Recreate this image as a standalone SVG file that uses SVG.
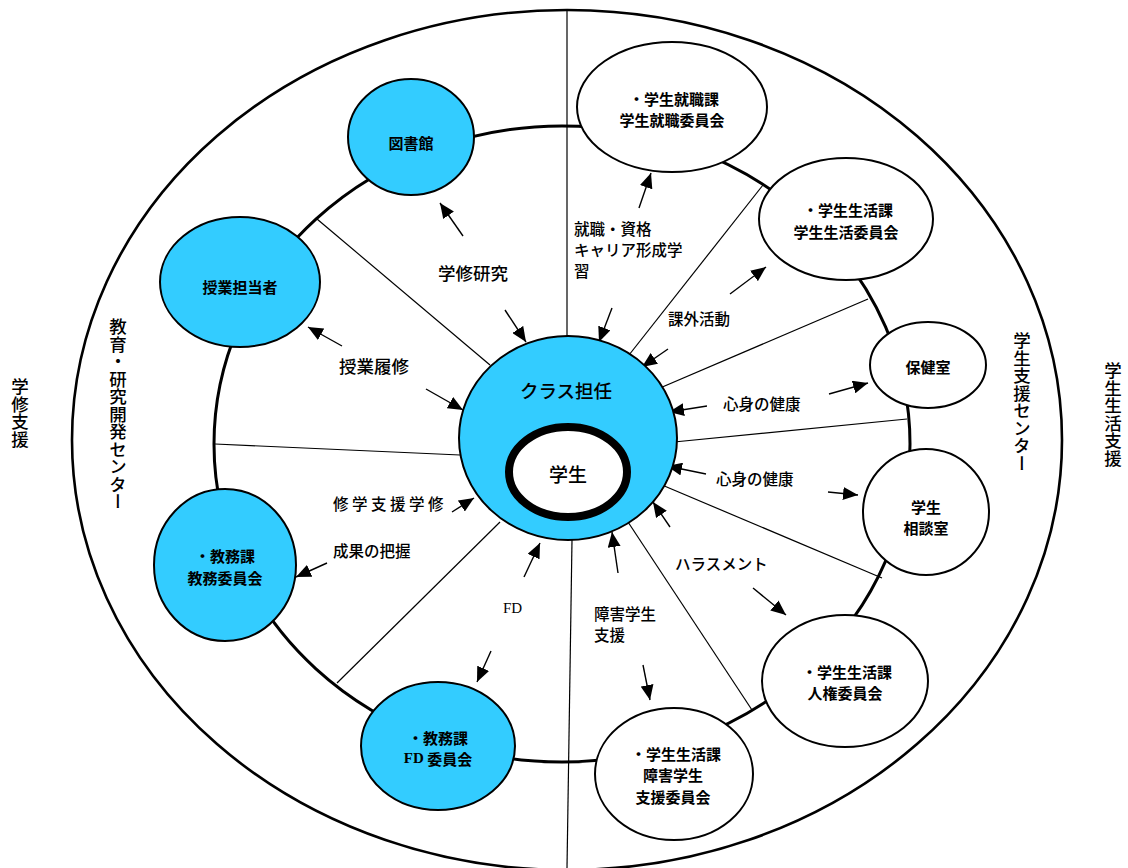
<svg xmlns="http://www.w3.org/2000/svg" width="1128" height="868" viewBox="0 0 1128 868">
<defs>
<style>
.bg{fill:#ffffff}
.outer{fill:none;stroke:#000;stroke-width:2.6}
.ring{fill:none;stroke:#000;stroke-width:3}
.thin{fill:none;stroke:#000;stroke-width:1.2}
.arr{fill:none;stroke:#000;stroke-width:1.4;marker-end:url(#ah)}
.blue{fill:#33CCFF;stroke:#000;stroke-width:2}
.white{fill:#ffffff;stroke:#000;stroke-width:2}
.nt{font-family:"Noto Sans CJK JP","Noto Sans",sans-serif;font-size:15px;font-weight:bold;fill:#000;text-anchor:middle;dominant-baseline:central}
.lb{font-family:"Noto Sans CJK JP","Noto Sans",sans-serif;font-size:15.5px;font-weight:500;fill:#000;dominant-baseline:central}
.lbb{font-family:"Noto Sans CJK JP","Noto Sans",sans-serif;font-size:17.5px;font-weight:500;fill:#000;dominant-baseline:central}
.vt{font-family:"Noto Sans CJK JP","Noto Sans",sans-serif;font-size:17.5px;font-weight:500;fill:#000;writing-mode:vertical-rl;text-anchor:start}
.fd{font-family:"Liberation Serif",serif}
</style>
<marker id="ah" markerUnits="userSpaceOnUse" markerWidth="15" markerHeight="13" refX="15" refY="6.5" orient="auto">
<path d="M0,0 L15,6.5 L0,13 z" fill="#000"/>
</marker>
</defs>
<rect class="bg" x="0" y="0" width="1128" height="868"/>

<g id="frame">
<ellipse class="outer" cx="567" cy="440" rx="495" ry="430"/>
<ellipse class="ring" cx="562" cy="444" rx="348" ry="318"/>
</g>

<g id="connectors">
<line class="thin" x1="567" y1="10" x2="567" y2="338"/>
<line class="thin" x1="572" y1="540" x2="567" y2="868"/>
<line class="thin" x1="490" y1="365" x2="317" y2="219"/>
<line class="thin" x1="460" y1="455" x2="215" y2="444"/>
<line class="thin" x1="500" y1="522" x2="337" y2="683"/>
<line class="thin" x1="629" y1="355" x2="763" y2="185"/>
<line class="thin" x1="660" y1="388" x2="868" y2="299"/>
<line class="thin" x1="674" y1="442" x2="907" y2="419"/>
<line class="thin" x1="662" y1="485" x2="882" y2="578"/>
<line class="thin" x1="628" y1="522" x2="752" y2="710"/>

<line class="arr" x1="463" y1="236" x2="440" y2="203"/>
<line class="arr" x1="505" y1="310" x2="526" y2="342"/>
<line class="arr" x1="612" y1="308" x2="599" y2="342"/>
<line class="arr" x1="639" y1="208" x2="651" y2="173"/>
<line class="arr" x1="342" y1="346" x2="308" y2="327"/>
<line class="arr" x1="426" y1="389" x2="463" y2="410"/>
<line class="arr" x1="730" y1="294" x2="766" y2="267"/>
<line class="arr" x1="668" y1="349" x2="642" y2="367"/>
<line class="arr" x1="829" y1="394" x2="868" y2="383"/>
<line class="arr" x1="707" y1="406" x2="669" y2="412"/>
<line class="arr" x1="706" y1="474" x2="667" y2="466"/>
<line class="arr" x1="828" y1="492" x2="858" y2="495"/>
<line class="arr" x1="670" y1="527" x2="653" y2="502"/>
<line class="arr" x1="753" y1="588" x2="786" y2="615"/>
<line class="arr" x1="618" y1="573" x2="612" y2="532"/>
<line class="arr" x1="643" y1="665" x2="650" y2="700"/>
<line class="arr" x1="524" y1="577" x2="540" y2="543"/>
<line class="arr" x1="491" y1="651" x2="477" y2="682"/>
<line class="arr" x1="452" y1="512" x2="474" y2="498"/>
<line class="arr" x1="327" y1="563" x2="296" y2="577"/>
</g>

<g id="node-library">
<ellipse class="blue" cx="411" cy="137" rx="63" ry="58"/>
<text class="nt" x="411" y="142">図書館</text>
</g>
<g id="node-teacher">
<ellipse class="blue" cx="240" cy="282" rx="80" ry="65"/>
<text class="nt" x="240" y="286">授業担当者</text>
</g>
<g id="node-kyomu">
<ellipse class="blue" cx="225" cy="565" rx="71" ry="76"/>
<text class="nt" x="225" y="555">・教務課</text>
<text class="nt" x="225" y="577">教務委員会</text>
</g>
<g id="node-fd">
<ellipse class="blue" cx="438" cy="746" rx="77" ry="64"/>
<text class="nt" x="438" y="737">・教務課</text>
<text class="nt" x="438" y="758"><tspan class="fd">FD</tspan> 委員会</text>
</g>
<g id="node-shogai">
<ellipse class="white" cx="674" cy="774" rx="79" ry="66"/>
<text class="nt" x="676" y="753">・学生生活課</text>
<text class="nt" x="673" y="774">障害学生</text>
<text class="nt" x="673" y="796">支援委員会</text>
</g>
<g id="node-jinken">
<ellipse class="white" cx="845" cy="681" rx="83" ry="66"/>
<text class="nt" x="847" y="671">・学生生活課</text>
<text class="nt" x="845" y="692">人権委員会</text>
</g>
<g id="node-soudan">
<ellipse class="white" cx="926" cy="512" rx="63" ry="63"/>
<text class="nt" x="926" y="506">学生</text>
<text class="nt" x="926" y="527">相談室</text>
</g>
<g id="node-hoken">
<ellipse class="white" cx="928" cy="365" rx="58" ry="43"/>
<text class="nt" x="928" y="366">保健室</text>
</g>
<g id="node-seikatsu">
<ellipse class="white" cx="846" cy="219" rx="87" ry="61"/>
<text class="nt" x="848" y="209">・学生生活課</text>
<text class="nt" x="846" y="231">学生生活委員会</text>
</g>
<g id="node-shushoku">
<ellipse class="white" cx="672" cy="107" rx="95" ry="65"/>
<text class="nt" x="674" y="98">・学生就職課</text>
<text class="nt" x="672" y="119">学生就職委員会</text>
</g>
<g id="node-class">
<ellipse class="blue" cx="568" cy="438" rx="109" ry="102"/>
<text class="nt" x="566" y="390" style="font-size:18.5px;font-weight:500">クラス担任</text>
</g>
<g id="node-student">
<ellipse cx="568" cy="472" rx="59" ry="45" fill="#fff" stroke="#000" stroke-width="8"/>
<text class="nt" x="568" y="473" style="font-size:19px;font-weight:500">学生</text>
</g>

<g id="labels">
<text class="lbb" x="438" y="272">学修研究</text>
<text class="lb" x="574" y="228">就職・資格</text>
<text class="lb" x="574" y="249">キャリア形成学</text>
<text class="lb" x="574" y="270">習</text>
<text class="lb" x="668" y="318">課外活動</text>
<text class="lbb" x="339" y="365">授業履修</text>
<text class="lb" x="723" y="403">心身の健康</text>
<text class="lb" x="716" y="478">心身の健康</text>
<text class="lb" x="675" y="563">ハラスメント</text>
<text class="lb" x="594" y="613">障害学生</text>
<text class="lb" x="594" y="634">支援</text>
<text class="lb fd" x="503" y="608" style="font-size:15px;font-weight:normal">FD</text>
<text class="lb" x="333" y="503" style="letter-spacing:3.5px">修学支援学修</text>
<text class="lb" x="333" y="550">成果の把握</text>
<text class="vt" x="20" y="378">学修支援</text>
<text class="vt" x="118" y="318">教育・研究開発センター</text>
<text class="vt" x="1022" y="332">学生支援センター</text>
<text class="vt" x="1113" y="362">学生生活支援</text>
</g>
</svg>
